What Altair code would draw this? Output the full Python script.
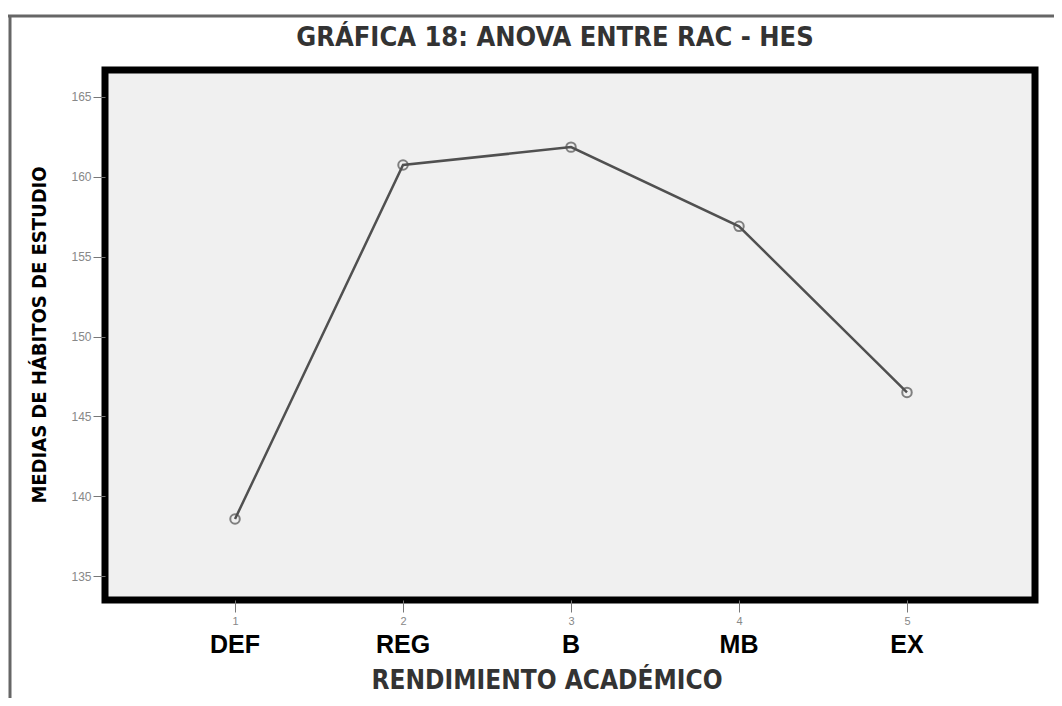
import altair as alt
import pandas as pd

# ---- data ----
niveles = [1, 2, 3, 4, 5]
categorias = ["DEF", "REG", "B", "MB", "EX"]
medias = [138.57, 160.74, 161.86, 156.90, 146.50]

titulo = "GRÁFICA 18: ANOVA ENTRE RAC - HES"
titulo_y = "MEDIAS DE HÁBITOS DE ESTUDIO"
titulo_x = "RENDIMIENTO ACADÉMICO"
ticks_y = [135, 140, 145, 150, 155, 160, 165]

df = pd.DataFrame({"nivel": niveles, "cat": categorias, "media": medias})

NARROW = "Liberation Sans Narrow, DejaVu Sans Condensed, Arial Narrow, sans-serif"
SANS = "Liberation Sans, Arial, sans-serif"
W, H = 930, 530

xs = alt.Scale(domain=[0.226, 5.762], nice=False, zero=False)
ys = alt.Scale(domain=[133.5, 166.69], nice=False, zero=False)

x_enc = alt.X("nivel:Q", scale=xs, axis=alt.Axis(
    values=niveles, format="d", title=None, domain=False, grid=False,
    tickSize=12, tickColor="#777", labelColor="#888", labelFontSize=11,
    labelFont=SANS, labelPadding=3))
y_enc = alt.Y("media:Q", scale=ys, axis=alt.Axis(
    values=ticks_y, format="d", title=None, domain=False, grid=False,
    tickSize=12, tickColor="#777", labelColor="#888", labelFontSize=12,
    labelFont=SANS, labelPadding=2))

base = alt.Chart(df)

linea = base.mark_line(color="#505050", strokeWidth=2.5).encode(x=x_enc, y=y_enc)
puntos = base.mark_point(filled=False, color="#505050", size=90, strokeWidth=2).encode(
    x=alt.X("nivel:Q", scale=xs), y=alt.Y("media:Q", scale=ys))

cats = base.mark_text(font=SANS, fontWeight="bold", fontSize=25, color="black",
                      baseline="middle", align="center").encode(
    x=alt.X("nivel:Q", scale=xs), y=alt.value(575), text="cat:N")

tdf = pd.DataFrame({"t": [titulo]})
tit = alt.Chart(tdf).mark_text(font=NARROW, fontWeight="bold", fontSize=27,
                               color="#333", align="center", baseline="middle").encode(
    x=alt.value(450), y=alt.value(-32), text="t:N")

ydf = pd.DataFrame({"t": [titulo_y]})
tity = alt.Chart(ydf).mark_text(font=NARROW, fontWeight="bold", fontSize=20,
                                color="black", align="center", baseline="middle",
                                angle=270).encode(
    x=alt.value(-65), y=alt.value(265), text="t:N")

xdf = pd.DataFrame({"t": [titulo_x]})
titx = alt.Chart(xdf).mark_text(font=NARROW, fontWeight="bold", fontSize=26,
                                color="#333", align="center", baseline="middle").encode(
    x=alt.value(442), y=alt.value(611), text="t:N")

marco_sup = alt.Chart(tdf).mark_rule(color="#666", strokeWidth=3).encode(
    x=alt.value(-100), x2=alt.value(950), y=alt.value(-54))
marco_izq = alt.Chart(tdf).mark_rule(color="#666", strokeWidth=3).encode(
    x=alt.value(-95), y=alt.value(-54), y2=alt.value(630))

chart = alt.layer(marco_sup, marco_izq, linea, puntos, cats, tit, tity, titx).properties(
    width=W, height=H,
    autosize=alt.AutoSizeParams(type="none"),
    padding={"left": 97, "top": 62, "right": 19, "bottom": 98},
    background="white",
).configure_view(fill="#f0f0f0", stroke="black", strokeWidth=7)

chart.save("out.html", embed_options={"renderer": "svg", "actions": False})
